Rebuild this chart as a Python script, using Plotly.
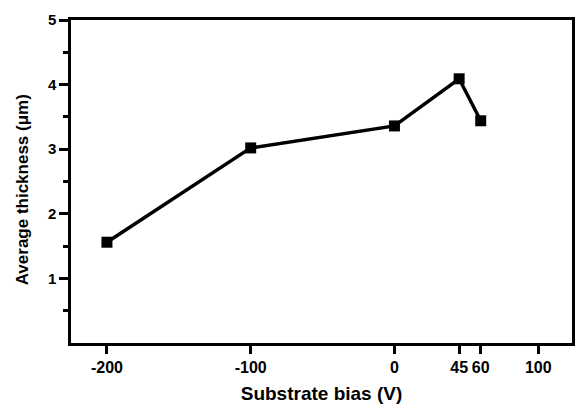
import plotly.graph_objects as go

bias_v = [-200, -100, 0, 45, 60]
thickness_um = [1.56, 3.02, 3.36, 4.09, 3.44]
x_ticks = [-200, -100, 0, 45, 60, 100]
y_ticks = [1, 2, 3, 4, 5]
y_minor = [0.5, 1.5, 2.5, 3.5, 4.5]

fig = go.Figure()
fig.add_trace(go.Scatter(
    x=bias_v, y=thickness_um, mode="lines+markers",
    line=dict(color="black", width=3.5),
    marker=dict(symbol="square", size=11, color="black"),
    showlegend=False,
))

font_family = "Liberation Sans, Arial, sans-serif"
L, R, T, B = 71, 2, 20, 61
W, H = 577, 404
fig.update_layout(
    width=W, height=H,
    margin=dict(l=L, r=R, t=T, b=B),
    plot_bgcolor="white", paper_bgcolor="white",
    font=dict(family=font_family, color="black"),
)
fig.update_xaxes(
    range=[-225, 123.5], tickvals=x_ticks, ticktext=[str(v) for v in x_ticks],
    showgrid=False, zeroline=False, showline=True, mirror=True,
    linecolor="black", linewidth=2.5,
    ticks="outside", ticklen=8, tickwidth=2.5, tickcolor="black",
    tickfont=dict(size=16, weight="bold", family=font_family),
    title=dict(text="Substrate bias (V)", font=dict(size=19, weight="bold", family=font_family), standoff=12),
)
fig.update_yaxes(
    range=[0, 5], tickvals=y_ticks, ticktext=[str(v) for v in y_ticks],
    showgrid=False, zeroline=False, showline=True, mirror=True,
    linecolor="black", linewidth=2.5,
    ticks="outside", ticklen=9, tickwidth=2.5, tickcolor="black",
    tickfont=dict(size=15, weight="bold", family=font_family),
    minor=dict(tickvals=y_minor, ticks="outside", ticklen=5, tickwidth=2.5, tickcolor="black", showgrid=False),
)
pw, ph = W - L - R, H - T - B
fig.add_annotation(
    text="Average thickness (\u03bcm)", textangle=-90, showarrow=False,
    xref="paper", yref="paper",
    x=(22 - L) / pw, y=(H - B - 190) / ph,
    xanchor="center", yanchor="middle",
    font=dict(size=17, weight="bold", family=font_family),
)

fig.write_html("out.html")
